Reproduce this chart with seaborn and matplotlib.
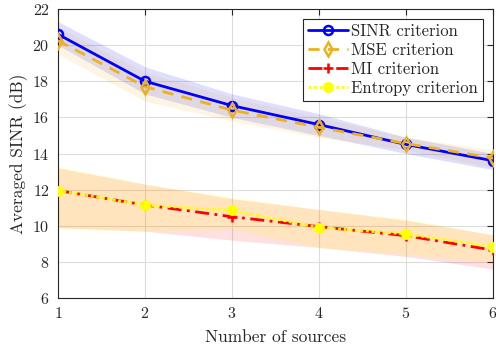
import numpy as np
import pandas as pd
import matplotlib
matplotlib.use("Agg")
import matplotlib.pyplot as plt
import seaborn as sns

sources = [1, 2, 3, 4, 5, 6]

sinr_mean = [20.6, 18.0, 16.65, 15.6, 14.5, 13.6]
sinr_hi = [21.3, 18.8, 17.3, 16.2, 14.9, 14.0]
sinr_lo = [20.0, 17.3, 16.0, 15.0, 14.0, 13.1]

mse_mean = [20.25, 17.7, 16.4, 15.45, 14.55, 13.75]
mse_hi = [21.0, 18.5, 17.1, 16.0, 14.9, 14.2]
mse_lo = [19.5, 16.9, 15.8, 14.9, 14.2, 13.2]

mi_mean = [11.95, 11.15, 10.5, 9.95, 9.45, 8.65]
mi_hi = [13.2, 12.3, 11.5, 10.9, 10.3, 9.5]
mi_lo = [9.9, 9.7, 9.2, 8.8, 8.3, 7.6]

ent_mean = [11.95, 11.15, 10.85, 9.9, 9.55, 8.85]
ent_hi = [13.3, 12.3, 11.6, 10.9, 10.4, 9.5]
ent_lo = [9.8, 9.7, 9.8, 8.8, 8.4, 8.0]

labels = ["SINR criterion", "MSE criterion", "MI criterion", "Entropy criterion"]

sns.set_style("white")
plt.rcParams["font.family"] = ["cmr10", "DejaVu Serif"]
plt.rcParams["mathtext.fontset"] = "cm"
plt.rcParams["axes.formatter.use_mathtext"] = True

fig = plt.figure(figsize=(4.96, 3.5), dpi=100)
ax = fig.add_axes([58 / 496, 52 / 350, 435 / 496, 289 / 350])

blue = (0, 0, 1)
orange = (0.929, 0.694, 0.125)
red = (1, 0, 0)
yellow = (1, 1, 0)

series = [
    (sinr_mean, sinr_hi, sinr_lo, blue, "-", "o", "none", 0.13, 6.5),
    (mse_mean, mse_hi, mse_lo, orange, (0, (4, 3)), "d", "none", 0.12, 7),
    (mi_mean, mi_hi, mi_lo, red, (0, (5, 2, 1, 2)), "+", red, 0.12, 7),
    (ent_mean, ent_hi, ent_lo, yellow, (0, (1, 1)), "o", yellow, 0.15, 6),
]

# shaded spread around each curve
for mean, hi, lo, col, ls, mk, mfc, a, ms in series:
    ax.fill_between(sources, lo, hi, color=col, alpha=a, linewidth=0, zorder=1)

for (mean, hi, lo, col, ls, mk, mfc, a, ms), lab in zip(series, labels):
    df = pd.DataFrame({"sources": sources, "sinr": mean})
    sns.lineplot(data=df, x="sources", y="sinr", ax=ax, color=col, linestyle=ls,
                 linewidth=2, marker=mk, markersize=ms, markerfacecolor=mfc,
                 markeredgecolor=col, markeredgewidth=1.8, label=lab, zorder=3)

ax.set_xlim(1, 6)
ax.set_ylim(6, 22)
ax.set_xticks(sources)
ax.set_yticks(np.arange(6, 23, 2))
ax.grid(True, color="#dcdcdc", linewidth=0.8)
ax.tick_params(direction="in", top=True, right=True, length=4, labelsize=11.5,
               color="#262626", width=0.8, pad=6)
for s in ax.spines.values():
    s.set_color("#262626")
    s.set_linewidth(0.8)
ax.set_xlabel("Number of sources", fontsize=12.5, labelpad=6)
ax.set_ylabel("Averaged SINR (dB)", fontsize=12.5, labelpad=3)

leg = ax.legend(loc="upper right", fontsize=12, fancybox=False, framealpha=1,
                edgecolor="#262626", handlelength=2.4, borderpad=0.3,
                labelspacing=0.22, handletextpad=0.2, borderaxespad=0.6)
leg.get_frame().set_linewidth(0.8)

fig.savefig("out.png", dpi=100)
